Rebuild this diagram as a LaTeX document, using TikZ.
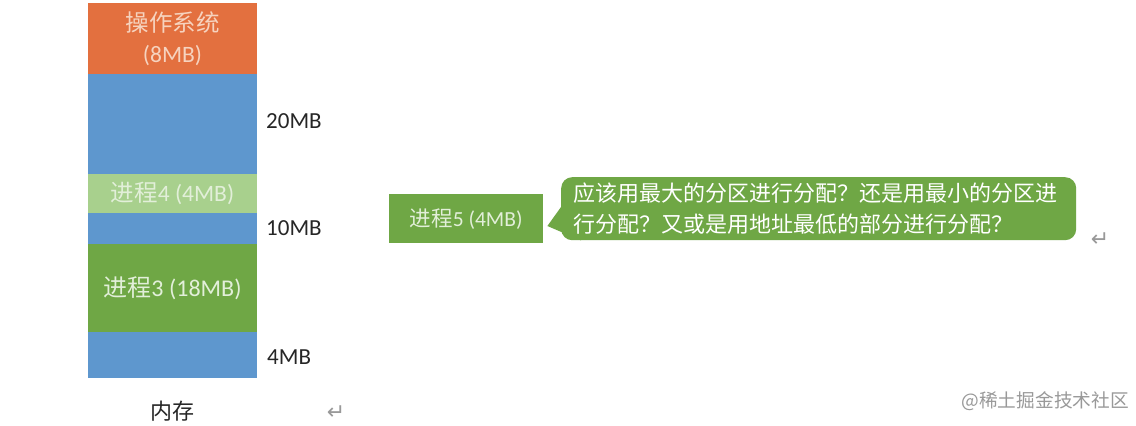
\documentclass[tikz,border=0pt]{standalone}
\usepackage{fontspec}
\setmainfont{Carlito}
\newfontfamily\cjk{Noto Sans CJK SC}
\newfontfamily\symf{DejaVu Sans}
\definecolor{osorange}{HTML}{E3703F}
\definecolor{memblue}{HTML}{5E97CE}
\definecolor{lgreen}{HTML}{A8D08D}
\definecolor{pgreen}{HTML}{6FA745}
\definecolor{ortext}{HTML}{F6D3BF}
\definecolor{grtext}{HTML}{E2EFD9}
\begin{document}
\begin{tikzpicture}[x=1pt,y=-1pt,
  blk/.style={inner sep=0pt, outer sep=0pt, anchor=north west, minimum width=169pt},
  lbl/.style={font=\fontsize{23}{26}\selectfont, text=black!85, anchor=west, inner sep=0pt},
  ret/.style={font=\symf\fontsize{22}{24}\selectfont, text=black!40, inner sep=0pt}]
\useasboundingbox[fill=white] (0,0) rectangle (1136,426);
% memory column
\node[blk, fill=osorange, minimum height=71pt, align=center, text=ortext,
  font=\fontsize{23.5}{31}\selectfont] (os) at (88,3) {{\cjk 操作系统}\\(8MB)};
\node[blk, fill=memblue, minimum height=100pt] (free1) at (88,74) {};
\node[blk, fill=lgreen, minimum height=39pt, text=grtext,
  font=\fontsize{23.5}{26}\selectfont] (p4) at (88,174) {{\cjk 进程}4 (4MB)};
\node[blk, fill=memblue, minimum height=31pt] (free2) at (88,213) {};
\node[blk, fill=pgreen, minimum height=88pt, text=grtext,
  font=\fontsize{24}{26}\selectfont] (p3) at (88,244) {{\cjk 进程}3 (18MB)};
\node[blk, fill=memblue, minimum height=46pt] (free3) at (88,332) {};
% size labels
\node[lbl] (l20) at (266,121) {20MB};
\node[lbl] (l10) at (266,228) {10MB};
\node[lbl] (l4) at (267,357) {4MB};
\node[font=\cjk\fontsize{22}{24}\selectfont, text=black!85, inner sep=0pt] (mem) at (172,411) {内存};
\node[ret] (r1) at (336,413) {↵};
% process 5
\node[fill=pgreen, inner sep=0pt, minimum width=154pt, minimum height=49pt, anchor=north west,
  text=grtext, font=\fontsize{21.5}{24}\selectfont] (p5) at (389,194) {{\cjk 进程}5 (4MB)};
% callout
\node[fill=pgreen, rounded corners=11pt, anchor=north west, inner xsep=12pt, inner ysep=0pt,
  minimum width=515pt, minimum height=63pt, text width=491pt, align=left, text=white,
  font=\cjk\fontsize{22}{31}\selectfont] (q) at (561,177)
  {应该用最大的分区进行分配？还是用最小的分区进\\行分配？又或是用地址最低的部分进行分配？};
\coordinate (tip) at ([xshift=4pt]p5.east |- 0,226);
\fill[pgreen] ([yshift=-30pt]q.north west) -- (tip) -- ([xshift=20pt]q.south west) -- cycle;
\node[ret] (r2) at (1100,240) {↵};
% watermark
\node[font=\cjk\fontsize{18.7}{20}\selectfont, text=black!40, anchor=east, inner sep=0pt] (wm) at (1129,401) {@稀土掘金技术社区};
\end{tikzpicture}
\end{document}
